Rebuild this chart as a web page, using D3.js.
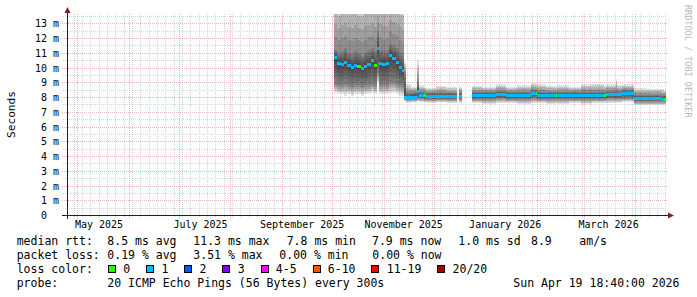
<!DOCTYPE html>
<html>
<head>
<meta charset="utf-8">
<script src="https://cdnjs.cloudflare.com/ajax/libs/d3/7.8.5/d3.min.js"></script>
<style>
  body { margin: 0; background: #fff; }
  svg text { font-family: "DejaVu Sans Mono", monospace; white-space: pre; }
</style>
</head>
<body>
<div class="chart-box"></div>
<script>
var parseDay = d3.timeParse("%Y-%m-%d");
var parseTime = d3.timeParse("%Y-%m-%d %H:%M");

// graph span, last 360 days
var spanStart = "2025-04-24 18:40",
    spanEnd = "2026-04-19 18:40";

// bins: start day of each bin, the last entry closes the final bin
var binStart = [
  "2025-10-02","2025-10-04","2025-10-06","2025-10-08","2025-10-10","2025-10-12",
  "2025-10-14","2025-10-16","2025-10-18","2025-10-20","2025-10-22","2025-10-24",
  "2025-10-26","2025-10-28","2025-10-29","2025-10-31","2025-11-02","2025-11-04",
  "2025-11-06","2025-11-08","2025-11-10","2025-11-12","2025-11-13",
  "2025-11-14","2025-11-17","2025-11-21","2025-11-22","2025-11-25","2025-11-26",
  "2025-12-02","2025-12-08","2025-12-15","2025-12-16","2025-12-18",
  "2025-12-24","2025-12-30","2026-01-07","2026-01-13","2026-01-20","2026-01-28",
  "2026-01-31","2026-02-01","2026-02-06","2026-02-12","2026-02-13","2026-02-20",
  "2026-02-27","2026-03-06","2026-03-13","2026-03-14","2026-03-20","2026-03-21",
  "2026-03-24","2026-03-31","2026-04-08","2026-04-17","2026-04-18","2026-04-19"
];

// median rtt in ms, null = no data
var medRtt = [
  10.7, 10.3, 10.2, 10.35, 10.15, 10.0, 10.15, 10.1, 9.95, 10.1, 10.2, 10.45,
  10.15, 11.3, 10.3, 10.2, 10.25, 10.8, 10.6, 10.35, 10.0, 9.8, 8.0,
  8.0, 8.0, 8.4, 8.1, 8.1, 8.05, 8.05, 8.05, null, 8.05, null,
  8.1, 8.1, 8.2, 8.1, 8.1, 8.25, 8.25, 8.1, 8.1, 8.1, 8.1, 8.1,
  8.1, 8.1, 8.1, 8.14, 8.14, 8.14, 8.25, 7.9, 7.9, 7.85, 7.85
];

// lost pings class (index into lossColors)
var lossCls = [
  1, 1, 1, 1, 1, 1, 1, 0, 1, 1, 1, 1,
  0, 1, 1, 1, 1, 1, 1, 1, 1, 1, 1,
  1, 1, 1, 1, 0, 1, 1, 1, 1, 1, 1,
  1, 1, 1, 1, 1, 1, 0, 1, 1, 0, 1, 1,
  1, 1, 0, 1, 1, 1, 1, 1, 1, 1, 0
];

// smoke: lowest ping, lower quartile, upper quartile, highest ping (ms)
var pingLo = [
  8.3, 8.2, 8.2, 8.1, 8.2, 8.1, 8.2, 8.2, 8.1, 8.2, 8.2, 8.3,
  8.2, 9.0, 8.2, 8.2, 8.2, 8.3, 8.3, 8.2, 8.1, 8.1, 7.7,
  7.6, 7.65, 7.7, 7.65, 7.65, 7.6, 7.65, 7.6, null, 7.6, null,
  7.6, 7.55, 7.6, 7.6, 7.55, 7.6, 7.6, 7.6, 7.55, 7.6, 7.55, 7.6,
  7.55, 7.6, 7.6, 7.6, 7.6, 7.6, 7.65, 7.45, 7.45, 7.45, 7.45
];
var pingQ1 = [
  8.9, 8.8, 8.8, 8.9, 8.8, 8.7, 8.8, 8.8, 8.7, 8.8, 8.8, 8.9,
  8.8, 9.6, 8.8, 8.9, 8.8, 9.0, 9.0, 8.9, 8.8, 8.7, 7.9,
  7.85, 7.85, 7.9, 7.9, 7.85, 7.85, 7.85, 7.85, null, 7.85, null,
  7.85, 7.85, 7.9, 7.85, 7.85, 7.9, 7.9, 7.85, 7.85, 7.85, 7.85, 7.85,
  7.85, 7.85, 7.85, 7.9, 7.9, 7.9, 7.95, 7.7, 7.7, 7.7, 7.7
];
var pingQ3 = [
  11.2, 11.0, 11.1, 11.3, 11.0, 10.9, 11.1, 11.0, 10.8, 11.0, 11.2, 11.3,
  11.1, 12.5, 11.2, 11.1, 11.2, 11.6, 11.5, 11.3, 11.0, 10.9, 9.6,
  8.25, 8.3, 9.0, 8.35, 8.3, 8.3, 8.3, 8.3, null, 8.3, null,
  8.35, 8.35, 8.4, 8.35, 8.35, 8.45, 8.45, 8.35, 8.35, 8.35, 8.35, 8.35,
  8.35, 8.35, 8.35, 8.4, 8.5, 8.4, 8.45, 8.15, 8.15, 8.1, 8.1
];
var pingHi = [
  15.5, 15.2, 15.5, 15.6, 15.3, 15.4, 15.5, 15.2, 15.3, 15.5, 15.4, 15.6,
  15.3, 15.0, 15.5, 15.4, 15.3, 15.6, 15.5, 15.4, 15.3, 15.2, 10.4,
  8.9, 8.7, 10.5, 8.8, 8.7, 8.6, 8.75, 8.65, null, 8.7, null,
  8.75, 8.7, 8.85, 8.7, 8.8, 8.95, 8.9, 8.85, 8.75, 8.7, 8.8, 8.7,
  8.85, 8.9, 8.8, 8.85, 9.2, 8.8, 8.85, 8.6, 8.55, 8.55, 8.5
];

var yTicks = [0, 1, 2, 3, 4, 5, 6, 7, 8, 9, 10, 11, 12, 13];
var yTickLabels = ["0  ", "1 m", "2 m", "3 m", "4 m", "5 m", "6 m", "7 m",
                   "8 m", "9 m", "10 m", "11 m", "12 m", "13 m"];

var xLabelDates = ["2025-05-13 16:00", "2025-07-13 14:00", "2025-09-12 14:00",
                   "2025-11-12 12:00", "2026-01-12 10:00", "2026-03-15 10:00"];
var xLabels = ["May 2025", "July 2025", "September 2025",
               "November 2025", "January 2026", "March 2026"];

var lossLabels = ["0", "1", "2", "3", "4-5", "6-10", "11-19", "20/20"];
var lossColors = ["#26ff00", "#00b8ff", "#0059ff", "#7e00ff",
                  "#ff00ff", "#ff5500", "#ff0000", "#a10000"];

var rttStats = ["median rtt:", "8.5 ms avg", "11.3 ms max", "7.8 ms min",
                "7.9 ms now", "1.0 ms sd", "8.9", "am/s"];
var lossStats = ["packet loss:", "0.19 % avg", "3.51 % max", "0.00 % min", "0.00 % now"];
var probeText = ["probe:", "20 ICMP Echo Pings (56 Bytes) every 300s", "Sun Apr 19 18:40:00 2026"];

// layout
var W = 697, H = 297;
var pLeft = 67, pRight = 667, pTop = 14, pBottom = 215;
var rttX = [16.7, 107.3, 193.3, 286.7, 372, 458.3, 531, 579.3];
var lossX = [16.7, 107.3, 193.3, 279.3, 372.3];
var probeX = [16.7, 107.3, 513.3];

var svg = d3.select(".chart-box").append("svg")
    .attr("width", W)
    .attr("height", H);

svg.append("rect").attr("width", W).attr("height", H).attr("fill", "#fff");

var x = d3.scaleTime()
    .domain([parseTime(spanStart), parseTime(spanEnd)])
    .range([pLeft, pRight]);
var y = d3.scaleLinear()
    .domain([0, 13.63])
    .range([pBottom, pTop]);

// grid
var gy = d3.range(0.5, 13.6, 0.5);
var minorDays = d3.timeDay.range(parseDay("2025-04-29"), x.domain()[1], 5);
var majorMonths = d3.timeMonth.range(x.domain()[0], x.domain()[1]);
var minorCol = "#d6d6d6", majorCol = "#eeb4b4";

var grid = svg.append("g").attr("shape-rendering", "crispEdges");
grid.selectAll(".hminor")
    .data(gy.filter(function(v) { return v % 1 !== 0; }))
  .enter().append("line")
    .attr("x1", 63).attr("x2", pRight)
    .attr("y1", function(v) { return Math.round(y(v)) + 0.5; })
    .attr("y2", function(v) { return Math.round(y(v)) + 0.5; })
    .attr("stroke", minorCol).attr("stroke-dasharray", "1,1");
grid.selectAll(".vminor")
    .data(minorDays)
  .enter().append("line")
    .attr("x1", function(d) { return Math.floor(x(d)) + 0.5; })
    .attr("x2", function(d) { return Math.floor(x(d)) + 0.5; })
    .attr("y1", pTop).attr("y2", pBottom + 3)
    .attr("stroke", minorCol).attr("stroke-dasharray", "1,1");
grid.selectAll(".hmajor")
    .data(gy.filter(function(v) { return v % 1 === 0; }))
  .enter().append("line")
    .attr("x1", 62).attr("x2", pRight)
    .attr("y1", function(v) { return Math.round(y(v)) + 0.5; })
    .attr("y2", function(v) { return Math.round(y(v)) + 0.5; })
    .attr("stroke", majorCol).attr("stroke-dasharray", "1,1");
grid.selectAll(".vmajor")
    .data(majorMonths)
  .enter().append("line")
    .attr("x1", function(d) { return Math.floor(x(d)) + 0.5; })
    .attr("x2", function(d) { return Math.floor(x(d)) + 0.5; })
    .attr("y1", pTop).attr("y2", pBottom + 4)
    .attr("stroke", majorCol).attr("stroke-dasharray", "1,1");

// smoke + median
svg.append("clipPath").attr("id", "plotclip")
  .append("rect").attr("x", pLeft).attr("y", pTop)
    .attr("width", pRight - pLeft).attr("height", pBottom - pTop);

var bins = [];
medRtt.forEach(function(m, i) {
  if (m === null) return;
  bins.push({
    x0: Math.round(x(parseDay(binStart[i]))),
    x1: Math.round(x(parseDay(binStart[i + 1]))),
    med: m, cls: lossCls[i],
    lo: pingLo[i], q1: pingQ1[i], q3: pingQ3[i], hi: pingHi[i]
  });
});

var layers = [];
bins.forEach(function(b) {
  var n = 5, k, t;
  for (k = 0; k < n; k++) {
    t = k / n;
    layers.push({x0: b.x0, x1: b.x1, lo: b.lo + (b.q1 - b.lo) * t, hi: b.hi + (b.q3 - b.hi) * t});
  }
  for (k = 0; k < n; k++) {
    t = k / n;
    layers.push({x0: b.x0, x1: b.x1, lo: b.q1 + (b.med - b.q1) * t, hi: b.q3 + (b.med - b.q3) * t});
  }
});

var plotG = svg.append("g").attr("clip-path", "url(#plotclip)");
plotG.selectAll(".smoke")
    .data(layers)
  .enter().append("rect")
    .attr("class", "smoke")
    .attr("x", function(d) { return d.x0; })
    .attr("width", function(d) { return d.x1 - d.x0; })
    .attr("y", function(d) { return y(d.hi); })
    .attr("height", function(d) { return y(d.lo) - y(d.hi); })
    .attr("fill", "#000")
    .attr("fill-opacity", 0.11)
    .attr("shape-rendering", "crispEdges");

plotG.selectAll(".med")
    .data(bins)
  .enter().append("rect")
    .attr("class", "med")
    .attr("x", function(d) { return d.x0; })
    .attr("width", function(d) { return d.x1 - d.x0; })
    .attr("y", function(d) { return Math.round(y(d.med) - 1.5); })
    .attr("height", 3)
    .attr("fill", function(d) { return lossColors[d.cls]; })
    .attr("shape-rendering", "crispEdges");

// axes
var yAxis = svg.append("g")
    .attr("transform", "translate(" + pLeft + ",0)")
    .call(d3.axisLeft(y).tickValues(yTicks)
      .tickFormat(function(d, i) { return yTickLabels[i]; })
      .tickSize(0).tickPadding(8));
yAxis.select(".domain").remove();
yAxis.attr("font-family", null).attr("font-size", 10);
yAxis.selectAll("text").attr("fill", "#000").attr("dy", "0.35em");

var xAxis = svg.append("g")
    .attr("transform", "translate(0," + pBottom + ")")
    .call(d3.axisBottom(x)
      .tickValues(xLabelDates.map(function(s) { return parseTime(s); }))
      .tickFormat(function(d, i) { return xLabels[i]; })
      .tickSize(0).tickPadding(6));
xAxis.select(".domain").remove();
xAxis.attr("font-family", null).attr("font-size", 10);
xAxis.selectAll("text").attr("fill", "#000");

svg.append("line")
    .attr("x1", pLeft + 0.5).attr("x2", pLeft + 0.5)
    .attr("y1", 11).attr("y2", 219)
    .attr("stroke", "#202020").attr("shape-rendering", "crispEdges");
svg.append("line")
    .attr("x1", 62).attr("x2", 670)
    .attr("y1", pBottom + 0.5).attr("y2", pBottom + 0.5)
    .attr("stroke", "#202020").attr("shape-rendering", "crispEdges");
svg.append("path")
    .attr("d", "M" + (pLeft + 0.5) + ",7L" + (pLeft + 3.5) + ",13L" + (pLeft - 2.5) + ",13Z")
    .attr("fill", "#7f1f1f");
svg.append("path")
    .attr("d", "M674," + (pBottom + 0.5) + "L668," + (pBottom - 2.5) + "L668," + (pBottom + 3.5) + "Z")
    .attr("fill", "#7f1f1f");

// vertical label + watermark
svg.append("text")
    .attr("transform", "translate(15," + ((pTop + pBottom) / 2) + ") rotate(-90)")
    .attr("text-anchor", "middle")
    .attr("font-size", 11.2)
    .text("Seconds");
svg.append("text")
    .attr("transform", "translate(685,5) rotate(90)")
    .attr("font-size", 8.5)
    .attr("fill", "#b8b8b8")
    .text("RRDTOOL / TOBI OETIKER");

// legend
var leg = svg.append("g").attr("font-size", 11.5).attr("fill", "#000");
rttStats.forEach(function(s, i) {
  leg.append("text").attr("x", rttX[i]).attr("y", 245).text(s);
});
lossStats.forEach(function(s, i) {
  leg.append("text").attr("x", lossX[i]).attr("y", 259).text(s);
});
leg.append("text").attr("x", 16.7).attr("y", 273).text("loss color:");
var bx = 108;
lossLabels.forEach(function(s, i) {
  leg.append("rect")
      .attr("x", bx + 0.5).attr("y", 265.5)
      .attr("width", 7).attr("height", 7)
      .attr("fill", lossColors[i]).attr("stroke", "#000")
      .attr("shape-rendering", "crispEdges");
  var t = leg.append("text").attr("x", bx + 15.3).attr("y", 273).text(s);
  bx = bx + 15.3 + t.node().getComputedTextLength() + 15.9;
});
probeText.forEach(function(s, i) {
  leg.append("text").attr("x", probeX[i]).attr("y", 287).text(s);
});
</script>
</body>
</html>
